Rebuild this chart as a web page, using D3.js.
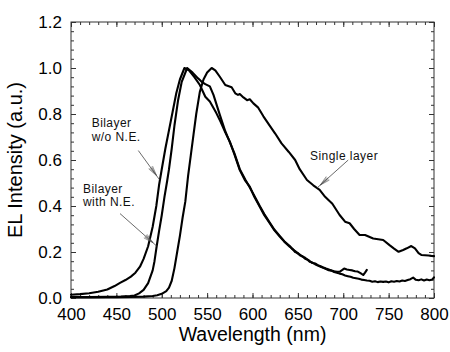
<!DOCTYPE html>
<html>
<head>
<meta charset="utf-8">
<script src="https://cdn.jsdelivr.net/npm/d3@7/dist/d3.min.js"></script>
<style>
  html, body { margin: 0; padding: 0; background: #fff; }
  svg { display: block; font-family: "Liberation Sans", Arial, sans-serif; }
</style>
</head>
<body>
<svg id="chart" width="450" height="352"></svg>
<script>
// ---- Data ----
const xTicks = [400, 450, 500, 550, 600, 650, 700, 750, 800];
const yTicks = [0.0, 0.2, 0.4, 0.6, 0.8, 1.0, 1.2];

// Bilayer w/o N.E.
const bilayerWoX = [400,410,420,430,440,448,454,460,466,471,476,480,485,490,494,497,500,504,508,512,516,520,525,530,536,542,548,553,560,565,570,575,580,586,592,597,602,608,613,619,624,630,635,641,644,647,650,652,655,658,661,663,666,669,672,675,678,681,684,687,690,693,696,699,702,705,708,711,714,717,720,723,726,729,732,735,738,741,744,747,750,753,756,759,762,765,768,771,774,777,780,783,786,789,792,795,798,800];
const bilayerWoY = [0.014,0.017,0.021,0.027,0.037,0.052,0.066,0.078,0.093,0.11,0.136,0.17,0.225,0.31,0.40,0.49,0.56,0.65,0.73,0.81,0.89,0.95,1.0,0.99,0.96,0.926,0.875,0.854,0.805,0.765,0.72,0.68,0.625,0.556,0.51,0.484,0.44,0.397,0.36,0.325,0.295,0.267,0.245,0.223,0.214,0.2,0.196,0.186,0.182,0.171,0.166,0.158,0.154,0.147,0.141,0.136,0.131,0.126,0.121,0.119,0.113,0.11,0.106,0.103,0.098,0.095,0.092,0.088,0.086,0.084,0.08,0.078,0.076,0.075,0.071,0.073,0.069,0.072,0.07,0.072,0.068,0.073,0.071,0.074,0.072,0.076,0.074,0.078,0.082,0.089,0.079,0.077,0.081,0.076,0.08,0.077,0.08,0.09];

// Bilayer with N.E.
const bilayerWithX = [400,420,440,455,465,470,475,480,485,490,492,494.4,497,500,503,506,508,511,514,518,522,528,534,540,544,548,553,557,564,570,575,580,586,592,597,602,608,613,619,624,630,635,641,644,647,650,652,655,658,661,663,666,669,672,675,678,681,684,687,690,693,696,699,701,704,707,710,713,716,719,722,724,726];
const bilayerWithY = [0.004,0.004,0.005,0.006,0.008,0.011,0.02,0.035,0.065,0.12,0.16,0.225,0.29,0.36,0.44,0.51,0.56,0.65,0.75,0.86,0.94,1.0,0.98,0.955,0.94,0.93,0.92,0.883,0.796,0.725,0.678,0.63,0.56,0.515,0.48,0.445,0.4,0.365,0.328,0.298,0.27,0.247,0.226,0.212,0.204,0.193,0.189,0.18,0.175,0.165,0.161,0.152,0.15,0.143,0.138,0.133,0.128,0.124,0.12,0.116,0.114,0.114,0.122,0.128,0.124,0.122,0.12,0.116,0.115,0.108,0.1,0.11,0.122];

// Single layer
const singleX = [400,450,480,490,495,500,505,508,511,514,517,520,523,526,529,532,535,538,542,546,550,555,559,564,570,577,581,584,586,590,594,597,601,606,612,618,625,632,640,647,652,660,667,674,680,688,696,702,707,712,718,724,733,744,751,756,761,766,770,775,779,783,786,790,794,797,800];
const singleY = [0.003,0.004,0.006,0.009,0.012,0.018,0.03,0.045,0.075,0.13,0.2,0.27,0.35,0.42,0.53,0.62,0.71,0.8,0.897,0.95,0.98,1.0,0.99,0.962,0.926,0.916,0.89,0.883,0.887,0.872,0.86,0.864,0.846,0.829,0.79,0.755,0.715,0.672,0.635,0.6,0.56,0.513,0.49,0.47,0.44,0.41,0.361,0.332,0.325,0.3,0.274,0.274,0.259,0.252,0.23,0.215,0.201,0.209,0.216,0.226,0.216,0.195,0.187,0.186,0.185,0.183,0.182];

// Annotations (data coordinates)
const labelTexts = [["Bilayer", "w/o N.E."], ["Bilayer", "with N.E."], ["Single layer"]];
const labelPos = [[422.8, 0.743], [413.2, 0.457], [663.4, 0.600]];
const arrows = [
  {from: [474.2, 0.641], to: [497.4, 0.515]},
  {from: [454.0, 0.367], to: [494.4, 0.226]},
  {from: [705.5, 0.600], to: [670.7, 0.477]}
];

// ---- Chart ----
const svg = d3.select("#chart");
const mLeft = 71, mRight = 434, mTop = 22, mBottom = 298;
const x = d3.scaleLinear().domain([400, 800]).range([mLeft, mRight]);
const y = d3.scaleLinear().domain([0, 1.2]).range([mBottom, mTop]);

const minorX = d3.range(400, 801, 10);
const minorY = d3.range(0, 1.2001, 0.04);

function styleAxis(g) {
  g.select(".domain").remove();
  g.selectAll(".tick line").attr("stroke", "#333").attr("stroke-width", 1);
  g.selectAll(".tick text").attr("fill", "#000").style("font-size", "17px")
    .style("font-family", "'Liberation Sans', Arial, sans-serif");
}

// bottom
svg.append("g").attr("transform", `translate(0,${mBottom})`)
  .call(d3.axisBottom(x).tickValues(minorX).tickSize(-3).tickFormat(""))
  .call(styleAxis);
svg.append("g").attr("transform", `translate(0,${mBottom})`)
  .call(d3.axisBottom(x).tickValues(xTicks).tickSize(-5).tickPadding(9.5).tickFormat(d3.format("d")))
  .call(styleAxis);
// top
svg.append("g").attr("transform", `translate(0,${mTop})`)
  .call(d3.axisTop(x).tickValues(minorX).tickSize(-3).tickFormat(""))
  .call(styleAxis);
svg.append("g").attr("transform", `translate(0,${mTop})`)
  .call(d3.axisTop(x).tickValues(xTicks).tickSize(-5).tickFormat(""))
  .call(styleAxis);
// left
svg.append("g").attr("transform", `translate(${mLeft},0)`)
  .call(d3.axisLeft(y).tickValues(minorY).tickSize(-3).tickFormat(""))
  .call(styleAxis);
svg.append("g").attr("transform", `translate(${mLeft},0)`)
  .call(d3.axisLeft(y).tickValues(yTicks).tickSize(-5).tickPadding(9).tickFormat(d3.format(".1f")))
  .call(styleAxis);
// right
svg.append("g").attr("transform", `translate(${mRight},0)`)
  .call(d3.axisRight(y).tickValues(minorY).tickSize(-3).tickFormat(""))
  .call(styleAxis);
svg.append("g").attr("transform", `translate(${mRight},0)`)
  .call(d3.axisRight(y).tickValues(yTicks).tickSize(-5).tickFormat(""))
  .call(styleAxis);

// frame
svg.append("rect").attr("x", mLeft).attr("y", mTop)
  .attr("width", mRight - mLeft).attr("height", mBottom - mTop)
  .attr("fill", "none").attr("stroke", "#333").attr("stroke-width", 1);

// curves
const line = d3.line().x(d => x(d[0])).y(d => y(d[1]));
const series = [
  [bilayerWoX, bilayerWoY],
  [bilayerWithX, bilayerWithY],
  [singleX, singleY]
];
series.forEach(([xs, ys]) => {
  svg.append("path")
    .datum(xs.map((v, i) => [v, ys[i]]))
    .attr("d", line)
    .attr("fill", "none")
    .attr("stroke", "#000")
    .attr("stroke-width", 2.1)
    .attr("stroke-linejoin", "round")
    .attr("stroke-linecap", "round");
});

// annotation labels
labelTexts.forEach((lines, i) => {
  const t = svg.append("text")
    .attr("x", x(labelPos[i][0]))
    .attr("y", y(labelPos[i][1]))
    .attr("fill", "#111")
    .style("font-size", "12px")
    .style("letter-spacing", "0.45px");
  lines.forEach((s, j) => {
    t.append("tspan").attr("x", x(labelPos[i][0])).attr("dy", j === 0 ? 0 : 13.6).text(s);
  });
});

// arrows with hatched heads
arrows.forEach(a => {
  const x1 = x(a.from[0]), y1 = y(a.from[1]);
  const x2 = x(a.to[0]), y2 = y(a.to[1]);
  svg.append("line").attr("x1", x1).attr("y1", y1).attr("x2", x2).attr("y2", y2)
    .attr("stroke", "#444").attr("stroke-width", 0.8);
  const L = Math.hypot(x2 - x1, y2 - y1);
  const ux = (x1 - x2) / L, uy = (y1 - y2) / L;
  const px = -uy, py = ux;
  const ax = x2 + ux * 5, ay = y2 + uy * 5;
  [-2.4, -1.2, 0, 1.2, 2.4].forEach(o => {
    svg.append("line")
      .attr("x1", ax).attr("y1", ay)
      .attr("x2", x2 + ux * 15 + px * o).attr("y2", y2 + uy * 15 + py * o)
      .attr("stroke", "#555").attr("stroke-width", 0.6);
  });
});

// axis titles
svg.append("text")
  .attr("x", (mLeft + mRight) / 2).attr("y", 341)
  .attr("text-anchor", "middle").attr("fill", "#000")
  .style("font-size", "19.5px").text("Wavelength (nm)");
svg.append("text")
  .attr("transform", `translate(22,${(mTop + mBottom) / 2}) rotate(-90)`)
  .attr("text-anchor", "middle").attr("fill", "#000")
  .style("font-size", "20px").text("EL Intensity (a.u.)");
</script>
</body>
</html>
